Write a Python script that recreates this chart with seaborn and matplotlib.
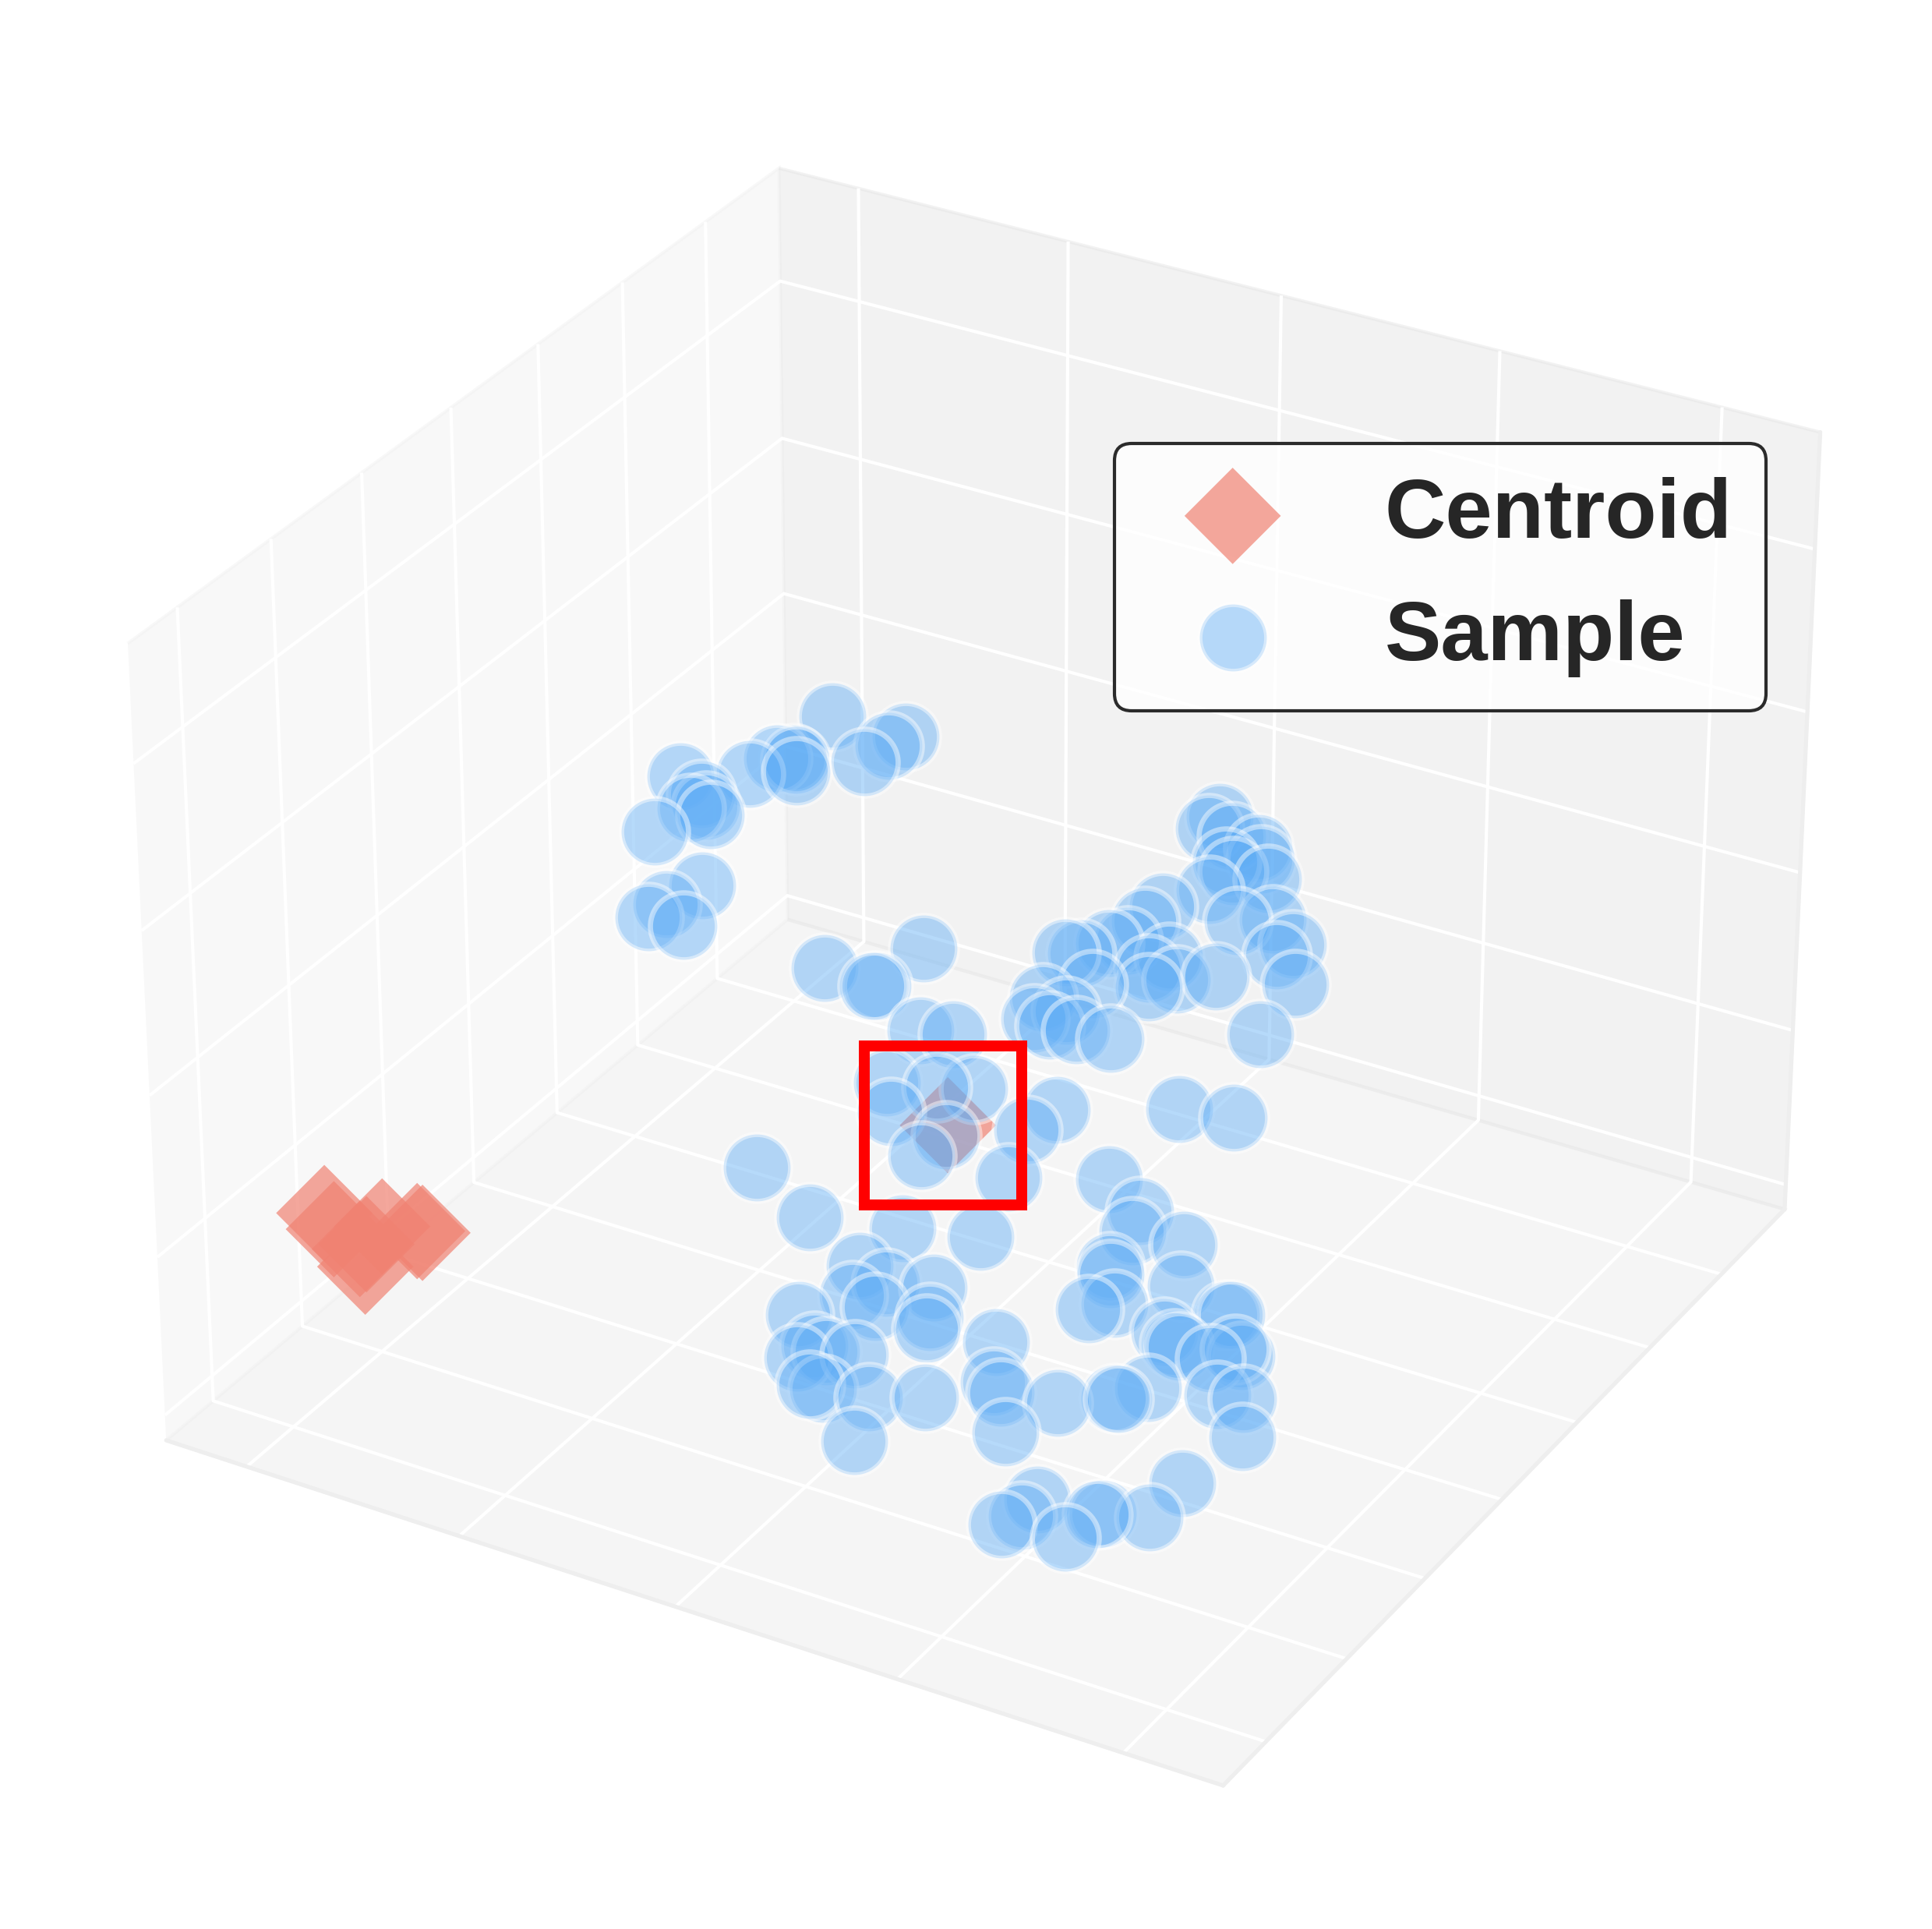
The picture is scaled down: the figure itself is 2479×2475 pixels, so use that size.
import matplotlib
matplotlib.use('Agg')
import matplotlib.pyplot as plt
import seaborn as sns
from matplotlib.patches import Rectangle

# embedding coordinates
sample_x = [372, 429, 419, 406, 355, 361, 343, 357, 328, 280, 299, 295, 311, 305, 275, 323, 302, 293, 320, 430,
            469, 472, 495, 514, 538, 672, 667, 686, 707, 712, 688, 695, 722, 683, 711, 654, 645, 735, 756, 747,
            767, 755, 709, 671, 638, 625, 597, 608, 660, 682, 664, 624, 592, 612, 591, 604, 624, 650, 503, 513,
            540, 566, 558, 546, 614, 630, 613, 433, 483, 551, 608, 716, 757, 530, 553, 532, 551, 588, 592, 593,
            499, 518, 509, 549, 528, 525, 535, 569, 609, 570, 645, 653, 661, 674, 703, 742, 745, 694, 706, 713,
            742, 762, 759, 684, 714, 714, 753, 761, 706, 709, 719, 702, 761, 771, 775, 800, 800, 804, 815, 821,
            814, 833, 842, 811, 763, 796]
sample_y = [463, 484, 473, 456, 429, 424, 422, 429, 404, 374, 375, 365, 370, 372, 340, 336, 313, 300, 311, 350,
            362, 364, 399, 362, 374, 577, 568, 574, 580, 576, 560, 559, 570, 541, 539, 515, 501, 554, 551, 540,
            535, 499, 506, 495, 486, 477, 455, 461, 482, 489, 474, 452, 426, 430, 414, 417, 426, 436, 326, 315,
            344, 359, 327, 308, 362, 383, 334, 236, 236, 269, 297, 433, 452, 236, 239, 220, 224, 256, 242, 236,
            190, 183, 171, 195, 185, 164, 168, 183, 205, 158, 258, 240, 238, 223, 257, 282, 283, 182, 194, 207,
            202, 228, 225, 374, 373, 361, 376, 357, 337, 334, 323, 310, 331, 330, 330, 338, 363, 365, 352, 352,
            325, 334, 317, 273, 300, 245]
sample_z = [755, 737, 729, 715, 718, 707, 718, 717, 705, 703, 687, 675, 669, 677, 654, 607, 591, 580, 572, 535,
            520, 520, 552, 481, 478, 667, 657, 650, 640, 630, 628, 620, 613, 603, 576, 589, 576, 577, 556, 546,
            521, 478, 528, 545, 559, 557, 549, 548, 535, 525, 518, 521, 510, 498, 491, 485, 481, 474, 436, 410,
            432, 430, 390, 373, 395, 412, 354, 362, 319, 310, 303, 413, 406, 277, 263, 252, 242, 259, 233, 223,
            235, 208, 198, 201, 204, 175, 171, 164, 164, 126, 212, 177, 168, 134, 159, 163, 163, 55, 62, 76,
            44, 64, 64, 352, 325, 307, 296, 260, 277, 270, 244, 240, 220, 210, 208, 198, 235, 235, 206, 199,
            166, 163, 130, 90, 172, 61]

centroid_x = [100, 100, 100, 100, 100, 100, 100, 100, 557]
centroid_y = [98, 111, 182, 242, 234, 155, 148, 158, 332]
centroid_z = [266, 236, 189, 138, 146, 156, 184, 183, 399]

x_ticks = [80, 288, 495, 703, 910]
y_ticks = [70, 205, 339, 474, 609, 743, 878]
z_ticks = [33, 238, 444, 650, 855]

sns.set_theme(style='whitegrid', rc={'grid.color': 'white', 'grid.linewidth': 1.0, 'axes.edgecolor': '#eeeeee'})
plt.rcParams['font.family'] = ['Liberation Sans', 'DejaVu Sans']

W, H = 2479, 2475
fig = plt.figure(figsize=(W/300, H/300), dpi=300, facecolor='white')
ax = fig.add_axes([30.91/W, 31.70/H, 2414.38/W, 2414.38/H], projection='3d')
ax.set_xlim(0, 1000)
ax.set_ylim(0, 1000)
ax.set_zlim(0, 1000)

ax.xaxis.set_pane_color((0.95, 0.95, 0.95, 0.5))
ax.yaxis.set_pane_color((0.90, 0.90, 0.90, 0.5))
ax.zaxis.set_pane_color((0.925, 0.925, 0.925, 0.5))

ax.scatter(centroid_x, centroid_y, centroid_z, marker='D', s=440, c='#F08272', alpha=0.7,
           edgecolors='none', depthshade=False, label='Centroid')
ax.scatter(sample_x, sample_y, sample_z, marker='o', s=425, c='#5FADF6', alpha=0.45,
           edgecolors='white', linewidths=1.6, depthshade=False, label='Sample')

ax.set_xticks(x_ticks)
ax.set_yticks(y_ticks)
ax.set_zticks(z_ticks)
ax.set_xticklabels([])
ax.set_yticklabels([])
ax.set_zticklabels([])
ax.tick_params(color=(0, 0, 0, 0))

leg = ax.legend(loc='upper left', bbox_to_anchor=(1430/W, 1-569/H), bbox_transform=fig.transFigure,
                borderaxespad=0, prop={'weight': 'bold', 'size': 26}, frameon=True, fancybox=True,
                labelspacing=0.52, borderpad=0.4)
frame = leg.get_frame()
frame.set_alpha(None)
frame.set_facecolor((1, 1, 1, 0.8))
frame.set_edgecolor('#2b2b2b')
frame.set_linewidth(1.0)

# highlight box around the lone centroid
fig.add_artist(Rectangle((1109/W, 1-1546/H), 202/W, 204/H, transform=fig.transFigure,
                         fill=False, edgecolor='red', linewidth=3.36))

fig.savefig('out.png', dpi=300)
